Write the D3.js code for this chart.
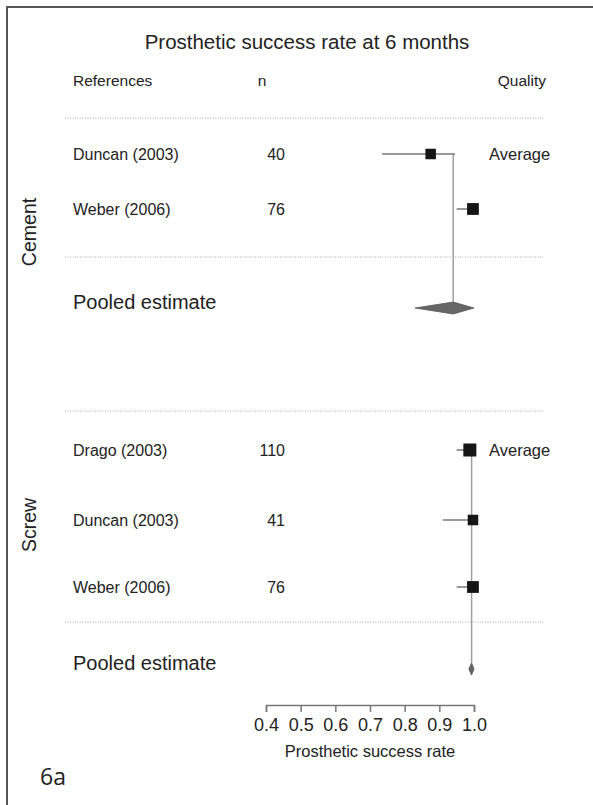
<!DOCTYPE html>
<html>
<head>
<meta charset="utf-8">
<script src="https://cdn.jsdelivr.net/npm/d3@7"></script>
<style>
  body { margin: 0; background: #fff; }
  text { font-family: "Liberation Sans", Arial, sans-serif; fill: #222; }
</style>
</head>
<body>
<svg width="593" height="805"></svg>
<script>
// study data
const groups = ["Cement", "Screw"];
const studyGroup = ["Cement", "Cement", "Screw", "Screw", "Screw"];
const studyNames = ["Duncan (2003)", "Weber (2006)", "Drago (2003)", "Duncan (2003)", "Weber (2006)"];
const studyN = [40, 76, 110, 41, 76];
const studyEst = [0.875, 0.997, 0.988, 0.997, 0.997];
const studyLo = [0.735, 0.95, 0.95, 0.91, 0.95];
const studyHi = [0.945, 1.0, 1.0, 1.0, 1.0];
const studyQuality = ["Average", "", "Average", "", ""];
// pooled estimates per group
const pooledEst = [0.94, 0.993];
const pooledLo = [0.83, 0.985];
const pooledHi = [1.0, 1.0];
const ticks = [0.4, 0.5, 0.6, 0.7, 0.8, 0.9, 1.0];

const svg = d3.select("svg");

// frame (top and left edges only, as in the scan)
svg.append("path")
  .attr("d", "M7,805 V7 H593")
  .attr("fill", "none")
  .attr("stroke", "#555")
  .attr("stroke-width", 2);

const x = d3.scaleLinear().domain([0.4, 1.0]).range([266, 474]);

// row layout (pixel centres)
const rowY = {
  Cement: { top: 118, rows: [154, 209], bottom: 257, pooled: 302, label: 232 },
  Screw: { top: 411, rows: [450, 520, 587], bottom: 622, pooled: 663, label: 525 }
};

const size = d3.scaleLinear().domain([40, 110]).range([10.5, 13]);

// title + headers
svg.append("text")
  .attr("x", 307).attr("y", 49)
  .attr("text-anchor", "middle")
  .style("font-size", "20.5px")
  .text("Prosthetic success rate at 6 months");

svg.append("text").attr("x", 73).attr("y", 86).style("font-size", "15.5px").text("References");
svg.append("text").attr("x", 262).attr("y", 86).attr("text-anchor", "middle").style("font-size", "15.5px").text("n");
svg.append("text").attr("x", 546).attr("y", 86).attr("text-anchor", "end").style("font-size", "15.5px").text("Quality");

groups.forEach((g, gi) => {
  const L = rowY[g];
  const idx = studyGroup.map((s, i) => s === g ? i : -1).filter(i => i >= 0);

  // dotted separators
  [L.top, L.bottom].forEach(yy => {
    svg.append("line")
      .attr("x1", 65).attr("x2", 545)
      .attr("y1", yy).attr("y2", yy)
      .attr("stroke", "#aaa")
      .attr("stroke-width", 1)
      .attr("stroke-dasharray", "1,1.5");
  });

  // group label
  svg.append("text")
    .attr("transform", `translate(36,${L.label}) rotate(-90)`)
    .attr("text-anchor", "middle")
    .style("font-size", "19.5px")
    .text(g);

  // vertical line at pooled estimate
  svg.append("line")
    .attr("x1", x(pooledEst[gi])).attr("x2", x(pooledEst[gi]))
    .attr("y1", L.rows[0]).attr("y2", L.pooled)
    .attr("stroke", "#a0a0a0")
    .attr("stroke-width", 1.5);

  idx.forEach((i, k) => {
    const yy = L.rows[k];
    svg.append("text").attr("x", 73).attr("y", yy + 6).style("font-size", "16px").text(studyNames[i]);
    svg.append("text").attr("x", 285).attr("y", yy + 6).attr("text-anchor", "end").style("font-size", "16px").text(studyN[i]);
    if (studyQuality[i]) {
      svg.append("text").attr("x", 489).attr("y", yy + 6).style("font-size", "16.5px").text(studyQuality[i]);
    }
    svg.append("line")
      .attr("x1", x(studyLo[i])).attr("x2", x(studyHi[i]))
      .attr("y1", yy).attr("y2", yy)
      .attr("stroke", "#777")
      .attr("stroke-width", 1.5);
    const s = size(studyN[i]);
    svg.append("rect")
      .attr("x", x(studyEst[i]) - s / 2).attr("y", yy - s / 2)
      .attr("width", s).attr("height", s)
      .attr("fill", "#151515");
  });

  // pooled estimate
  svg.append("text").attr("x", 73).attr("y", L.pooled + 7).style("font-size", "20px").text("Pooled estimate");
  const py = L.pooled + 6;
  svg.append("path")
    .attr("d", `M${x(pooledLo[gi])},${py} L${x(pooledEst[gi])},${py - 6} L${x(pooledHi[gi])},${py} L${x(pooledEst[gi])},${py + 6} Z`)
    .attr("fill", "#666")
    .attr("stroke", "#555")
    .attr("stroke-width", 0.8);
});

// x axis
const axis = svg.append("g")
  .attr("transform", "translate(0,705)")
  .call(d3.axisBottom(x).tickValues(ticks).tickFormat(d3.format(".1f")).tickSize(7).tickPadding(6));
axis.selectAll("path, line").attr("stroke", "#777").attr("stroke-width", 1.5);
axis.selectAll("text")
  .style("font-size", "18px")
  .style("font-family", "'Liberation Sans', Arial, sans-serif")
  .attr("fill", "#222");

svg.append("text")
  .attr("x", 370).attr("y", 757)
  .attr("text-anchor", "middle")
  .style("font-size", "16.5px")
  .text("Prosthetic success rate");

svg.append("text")
  .attr("x", 40).attr("y", 785)
  .style("font-family", "'Open Sans', sans-serif")
  .style("font-size", "23px")
  .text("6a");
</script>
</body>
</html>
